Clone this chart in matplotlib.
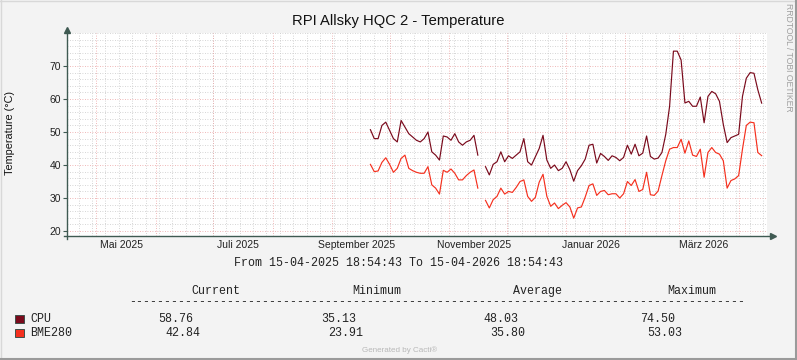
import numpy as np
import pandas as pd
import matplotlib
matplotlib.use("Agg")
import matplotlib.pyplot as plt
from matplotlib.ticker import MultipleLocator
from matplotlib.lines import Line2D

nan = np.nan

# time window of the graph
t_start = pd.Timestamp("2025-04-15 18:54:43")
t_end = pd.Timestamp("2026-04-15 18:54:43")

# samples every 2 days, first one on 21 Sep 2025
data_start = "2025-09-21"
cpu = [50.7, 48.0, 48.0, 52.0, 53.0, 50.5, 48.0, 47.0, 53.5, 51.5,
       49.5, 48.5, 47.5, 47.0, 48.0, 50.0, 44.0, 43.0, 41.5, 48.8,
       48.5, 47.5, 49.5, 47.0, 46.0, 47.0, 47.5, 49.0, 43.0, nan,
       39.5, 37.0, 40.2, 41.0, 44.0, 41.0, 42.8, 42.0, 43.0, 44.0,
       48.0, 41.0, 40.0, 42.5, 45.0, 49.0, 41.5, 39.0, 40.0, 38.3,
       39.0, 41.0, 38.6, 35.1, 38.3, 39.8, 41.8, 46.0, 46.3, 40.6,
       43.5, 42.6, 41.4, 42.8, 42.3, 41.3, 42.3, 46.0, 43.3, 46.3,
       42.8, 43.6, 48.8, 42.6, 41.8, 42.1, 43.8, 49.3, 57.8, 74.5,
       74.5, 71.8, 58.8, 59.3, 57.8, 57.8, 60.6, 52.8, 60.8, 62.3,
       61.6, 59.3, 52.3, 46.8, 48.3, 48.8, 49.3, 60.8, 66.3, 68.0,
       67.8, 62.8, 58.76]
bme280 = [40.2, 38.0, 38.2, 40.8, 42.2, 40.2, 37.8, 39.0, 42.0, 43.0,
          39.0, 38.3, 37.8, 37.5, 37.5, 39.5, 34.0, 33.0, 31.2, 38.4,
          37.8, 38.8, 37.5, 35.5, 35.5, 36.8, 37.8, 38.5, 33.0, nan,
          29.3, 27.0, 29.5, 30.5, 33.0, 31.2, 32.0, 31.7, 33.2, 35.0,
          35.5, 30.5, 29.0, 30.2, 34.8, 37.2, 30.5, 27.5, 28.5, 26.8,
          27.8, 28.6, 27.3, 23.9, 27.0, 27.3, 30.3, 33.8, 34.3, 30.8,
          32.0, 32.3, 31.0, 31.3, 31.3, 30.0, 31.3, 35.0, 33.8, 35.6,
          32.0, 32.6, 37.8, 31.0, 30.8, 32.1, 36.8, 41.3, 44.8, 45.3,
          45.3, 47.8, 43.6, 47.3, 43.0, 42.6, 44.8, 36.3, 43.8, 45.3,
          43.8, 43.3, 41.3, 33.0, 35.3, 35.8, 36.8, 44.8, 52.0, 53.0,
          52.8, 43.8, 42.84]

month_labels = ["Mai 2025", "Juli 2025", "September 2025",
                "November 2025", "Januar 2026", "März 2026"]
month_label_dates = ["2025-05-14", "2025-07-14", "2025-09-14",
                     "2025-11-14", "2026-01-14", "2026-03-14"]

legend_names = ["CPU", "BME280"]
stat_headers = ["Current", "Minimum", "Average", "Maximum"]
stats = [["58.76", "35.13", "48.03", "74.50"],
         ["42.84", "23.91", "35.80", "53.03"]]

W, H = 797, 360
cpu_color = "#7a0a1c"
bme_color = "#f5301e"
axis_color = "#3f5a52"
back = "#f3f3f3"


def px(x, y):
    return x / W, 1 - y / H


fig = plt.figure(figsize=(W / 100, H / 100), dpi=100, facecolor=back)
ax = fig.add_axes([67 / W, 1 - 236 / H, 700 / W, 203 / H])
ax.set_facecolor("white")

dates = pd.date_range(data_start, periods=len(cpu), freq="2D")

# grid
for d in pd.date_range(t_start, t_end, freq="W-MON"):
    ax.axvline(d, color="#c8c8c8", lw=0.6, ls=(0, (1, 2)), zorder=1)
for d in pd.date_range("2025-05-01", t_end, freq="MS"):
    ax.axvline(d, color="#eaa0a0", lw=0.6, ls=(0, (1, 2)), zorder=2)
ax.yaxis.set_major_locator(MultipleLocator(10))
ax.yaxis.set_minor_locator(MultipleLocator(2))
ax.grid(axis="y", which="minor", color="#c8c8c8", lw=0.6, ls=(0, (1, 2)), zorder=1)
ax.grid(axis="y", which="major", color="#eaa0a0", lw=0.6, ls=(0, (1, 2)), zorder=2)
ax.set_axisbelow(True)

ax.plot(dates, cpu, color=cpu_color, lw=0.85, zorder=3)
ax.plot(dates, bme280, color=bme_color, lw=0.85, zorder=3)

ax.set_xlim(t_start, t_end)
ax.set_ylim(18.5, 80)
ax.set_yticks([20, 30, 40, 50, 60, 70])
ax.set_xticks(pd.to_datetime(month_label_dates))
ax.set_xticklabels(month_labels)
ax.tick_params(axis="x", length=0, pad=3, labelsize=7.5, labelcolor="#222222")
ax.tick_params(axis="y", which="major", length=3, width=0.8, color=axis_color,
               pad=1.5, labelsize=7.5, labelcolor="#222222")
ax.tick_params(axis="y", which="minor", length=0)
for lab in ax.get_xticklabels() + ax.get_yticklabels():
    lab.set_fontfamily("Liberation Sans")
for s in ax.spines.values():
    s.set_visible(False)

# axes with arrow heads
ax.add_line(Line2D([0, 0], [-0.015, 1.01], transform=ax.transAxes, color=axis_color,
                   lw=1.0, clip_on=False, zorder=5))
ax.add_line(Line2D([-0.004, 1.005], [0, 0], transform=ax.transAxes, color=axis_color,
                   lw=1.0, clip_on=False, zorder=5))
ax.plot([0], [1.015], marker="^", ms=4, color=axis_color, transform=ax.transAxes,
        clip_on=False, zorder=6)
ax.plot([1.009], [0], marker=">", ms=4, color=axis_color, transform=ax.transAxes,
        clip_on=False, zorder=6)

# texts
fig.text(*px(398, 21), "RPI Allsky HQC 2 - Temperature", ha="center", va="center",
         fontsize=10.6, family="Liberation Sans", color="#111111")
fig.text(*px(10, 133), "Temperature (°C)", ha="center", va="center", rotation=90,
         fontsize=7.8, family="Liberation Sans", color="#111111")
fig.text(*px(789, 57), "RRDTOOL / TOBI OETIKER", ha="center", va="center", rotation=270,
         fontsize=6.2, family="Liberation Sans", color="#a0a0a0")
fig.text(*px(400, 350), "Generated by Cacti®", ha="center", va="center",
         fontsize=5.8, family="Liberation Sans", color="#b8b8b8")

mono = dict(family="Liberation Mono", fontsize=8.4, color="#222222", va="center", ha="left")
fig.text(*px(234, 263), "From 15-04-2025 18:54:43 To 15-04-2026 18:54:43", **mono)

header_x = [191, 352, 513, 667]
for hx, h in zip(header_x, stat_headers):
    fig.text(*px(hx, 291), h, **mono)
fig.text(*px(129, 302), "-" * 88, **mono)

row_y = [318.5, 332.5]
value_x = [[158, 321, 483, 640], [165, 328, 490, 647]]
colors = [cpu_color, bme_color]
for r in range(2):
    fig.patches.append(plt.Rectangle(px(15, row_y[r] + 4.5), 8.5 / W, 8.5 / H,
                                     transform=fig.transFigure, facecolor=colors[r],
                                     edgecolor="#3f4f4a", lw=0.7))
    fig.text(*px(30, row_y[r]), legend_names[r], **mono)
    for vx, v in zip(value_x[r], stats[r]):
        fig.text(*px(vx, row_y[r]), v, **mono)

# image frame
fig.add_artist(Line2D([0, 1], [1 - 0.5 / H] * 2, transform=fig.transFigure,
                      color="#d8d8d8", lw=1.0))
fig.add_artist(Line2D([0.5 / W] * 2, [0, 1], transform=fig.transFigure,
                      color="#d8d8d8", lw=1.0))
fig.add_artist(Line2D([0, 1], [1.5 / H] * 2, transform=fig.transFigure,
                      color="#9a9a9a", lw=1.5))
fig.add_artist(Line2D([1 - 1.5 / W] * 2, [0, 1], transform=fig.transFigure,
                      color="#9a9a9a", lw=1.5))

fig.savefig("out.png", dpi=100, facecolor=back)
